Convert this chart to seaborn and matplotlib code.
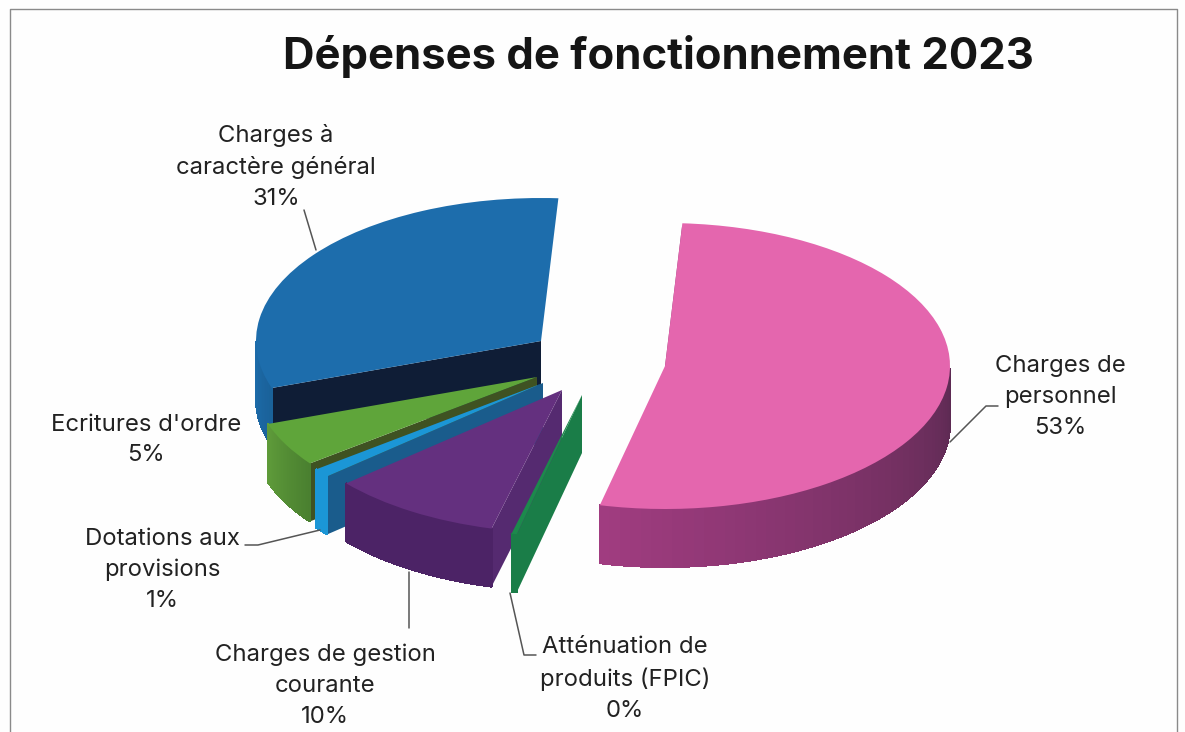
import numpy as np
import seaborn as sns
import matplotlib.pyplot as plt
from matplotlib.transforms import Affine2D

categories = ["Charges de\npersonnel", "Atténuation de\nproduits (FPIC)", "Charges de gestion\ncourante",
              "Dotations aux\nprovisions", "Ecritures d'ordre", "Charges à\ncaractère général"]
values = [52.7, 0.3, 9.7, 1, 5, 31.3]
percent_labels = ["53%", "0%", "10%", "1%", "5%", "31%"]

top_colors = ["#e466ae", "#1c8a4c", "#64307f", "#1b96d6", "#5fa53a", "#1d6dac"]
cut_colors = ["#8c3a72", "#1a7d48", "#552a70", "#1a5c8c", "#3f5222", "#0f1d36"]
rim_start = ["#5c2a52", "#1a7d48", "#4c2366", "#1b96d6", "#4a8030", "#1a6199"]
rim_end = ["#a03c80", "#1a7d48", "#4c2366", "#1b96d6", "#5f9c3a", "#1d6dac"]

# apex of each slice once pulled out, in picture pixels
apex = [(665, 366), (582, 395), (562, 390), (543, 383), (537, 377), (541, 341)]
draw_order = [0, 5, 4, 3, 2, 1]
RX, RY, DEPTH = 285, 143, 58
W, H = 1185, 732

sns.set_theme(style="white")
plt.rcParams["font.family"] = ["Inter", "DejaVu Sans"]

fig = plt.figure(figsize=(W / 100, H / 100), dpi=100, facecolor="#fefefe")
ax = fig.add_axes([0, 0, 1, 1])
wedges, _ = ax.pie(values, startangle=86.5, counterclock=False, colors=top_colors, frame=True)
ax.set_aspect("auto")
ax.set_xlim(0, W)
ax.set_ylim(H, 0)
ax.axis("off")


def ring_point(i, angle, drop=0):
    cx, cy = apex[i]
    return cx + RX * np.cos(np.radians(angle)), cy - RY * np.sin(np.radians(angle)) + drop


for rank, i in enumerate(draw_order):
    w = wedges[i]
    z = 2 + rank * 3
    cx, cy = apex[i]
    # y axis runs downward, so the unit wedge is flipped when placed
    w.set_transform(Affine2D().scale(RX, -RY).translate(cx, cy) + ax.transData)
    w.set_zorder(z + 2)
    w.set_linewidth(0)

    # cut face on the visible straight edge
    ox, oy = ring_point(i, w.theta2)
    ax.fill([cx, ox, ox, cx], [cy, oy, oy + DEPTH, cy + DEPTH],
            color=cut_colors[i], lw=0, zorder=z)

    # outer rim, only the part turned towards the viewer
    angles = np.linspace(w.theta1, w.theta2, 90)
    angles = angles[np.sin(np.radians(angles)) < 0]
    if len(angles) > 1:
        shades = sns.blend_palette([rim_start[i], rim_end[i]], len(angles))
        for k in range(len(angles) - 1):
            a0, a1 = angles[k], angles[k + 1]
            x0, y0 = ring_point(i, a0)
            x1, y1 = ring_point(i, a1)
            ax.fill([x0, x1, x1, x0], [y0, y1, y1 + DEPTH, y0 + DEPTH],
                    color=shades[len(angles) - 1 - k], lw=0.8, antialiased=False, zorder=z + 1)

# labels
label_pos = [(1060, 397), (625, 679), (325, 686), (162, 570), (146, 440), (276, 167)]
for name, pct, (x, y) in zip(categories, percent_labels, label_pos):
    ax.text(x, y, name + "\n" + pct, ha="center", va="center", fontsize=17.2,
            color="#222222", linespacing=1.52)

ax.text(658, 57, "Dépenses de fonctionnement 2023", ha="center", va="center",
        fontsize=31.4, fontweight="bold", color="#151515")

# leader lines
leaders = [([950, 986, 998], [442, 406, 406]), ([304, 316], [210, 250]),
           ([245, 258, 320], [545, 545, 530]), ([409, 409], [572, 628]),
           ([510, 524, 536], [593, 655, 655])]
for xs, ys in leaders:
    ax.plot(xs, ys, color="#555555", lw=1.1, zorder=30)

# page frame
ax.plot([10, 10, 1177, 1177], [H, 9, 9, H], color="#8a8a8a", lw=1.0, zorder=1)

fig.savefig("out.png", dpi=100, facecolor=fig.get_facecolor())
